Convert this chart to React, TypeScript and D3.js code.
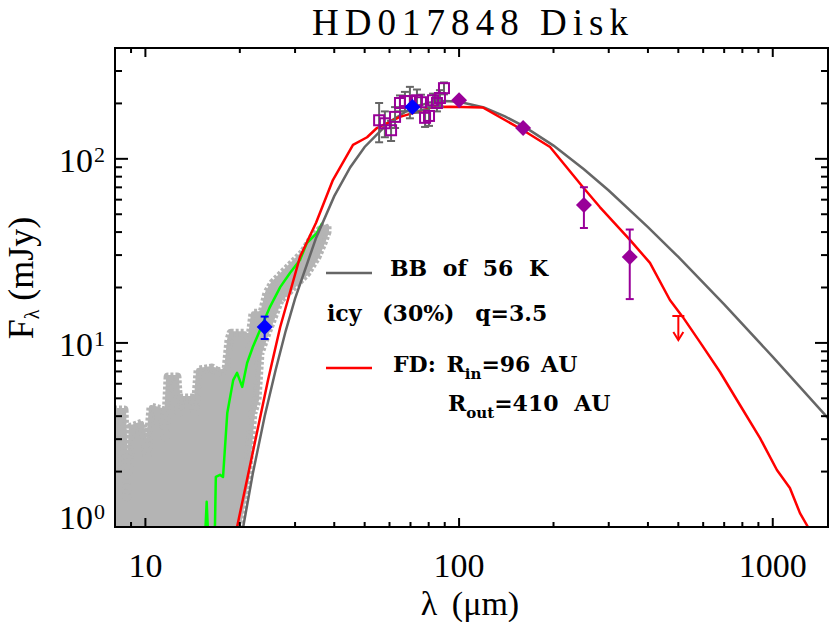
import React from "react";
import * as d3 from "d3";

const X_DOMAIN: [number, number] = [8, 1500];
const Y_DOMAIN: [number, number] = [1, 400];
const X_LABELED = [10, 100, 1000];
const X_LABELS = ["10", "100", "1000"];
const Y_LABELED = [1, 10, 100];
const Y_EXP = ["0", "1", "2"];

// Blackbody of 56 K (grey curve)
const bbWave = [20, 20.5, 22, 24, 26, 28, 30, 35, 40, 45, 50, 60, 70, 80, 90, 100, 120, 140, 160, 200, 250, 300, 400, 500, 700, 1000, 1500];
const bbFlux = [0.8, 1.0, 1.95, 4.0, 7.1, 11.6, 17.4, 37.2, 62.7, 90, 116, 159, 187, 202, 206, 204, 190, 170, 151, 118, 87.7, 67.3, 42.6, 29.3, 16.2, 8.4, 3.9];

// FD model (red curve)
const fdWave = [19.0, 19.6, 24.6, 26.9, 31.1, 35.0, 39.6, 45.9, 50.9, 54.7, 64.8, 82.6, 93.5, 119, 160, 195, 248, 281, 351, 406, 470, 517, 586, 679, 786, 911, 1031, 1134, 1221, 1295, 1330];
const fdFlux = [0.8, 1.0, 6.29, 12.2, 29.3, 45, 76.7, 119, 131, 147, 169, 191, 192, 190, 143, 116, 70.3, 54.7, 36.2, 27.2, 17.1, 13.8, 10.1, 6.95, 4.6, 3.04, 2.04, 1.63, 1.19, 1.0, 0.85];

// model spectrum (green curve)
const greenWave = [15.4, 15.68, 15.95, 16.6, 16.77, 17.29, 17.68, 18.24, 19.05, 19.6, 20.35, 21.1, 22.0, 23.7, 24.96, 26.9, 28.9, 31.1, 32.7, 35.2, 36.6];
const greenFlux = [0.7, 1.37, 0.7, 0.7, 1.87, 1.92, 1.87, 4.16, 6.28, 6.87, 5.77, 7.78, 9.5, 12.8, 15.7, 20.1, 24.0, 28.2, 34.9, 39.5, 44.8];

// IRS spectrum envelope (light grey band)
const irsUpWave = [7.94, 8.55, 8.74, 9.0, 9.75, 10.12, 10.42, 11.29, 11.55, 11.81, 12.61, 12.8, 12.99, 14.08, 14.39, 14.72, 16.31, 17.03, 18.07, 18.47, 18.75, 20.77, 21.39, 22.03, 23.53, 24.41, 25.51, 27.46, 29.54, 31.79, 34.22, 36.03, 37.93];
const irsUpFlux = [4.32, 4.32, 1.46, 3.49, 3.67, 2.46, 4.49, 4.32, 3.08, 6.53, 6.53, 4.21, 5.02, 5.02, 4.21, 7.12, 7.31, 6.95, 7.12, 10.4, 11.3, 11.3, 9.74, 14.5, 14.5, 18.7, 21.2, 24.0, 27.2, 30.8, 37.6, 41.0, 43.2];
const irsLoWave = [7.9, 19.59, 21.08, 22.03, 22.69, 23.19, 24.41, 26.86, 29.54, 32.74, 35.24, 36.83, 37.93];
const irsLoFlux = [0.8, 0.9, 1.8, 4.16, 4.9, 8.81, 11.3, 17.1, 20.1, 24.0, 29.3, 34.9, 40.0];

// PACS spectroscopy (open purple squares, grey errors)
const sqWave = [55.6, 58.0, 60.7, 62.5, 64.8, 67.2, 69.7, 73.4, 75.6, 77.9, 80.2, 82.6, 85.0, 86.9, 89.5];
const sqFlux = [162, 156, 143, 169, 201, 206, 206, 208, 203, 167, 171, 208, 201, 214, 242];
const sqErr = [39, 25, 18, 22, 20, 25, 40, 30, 20, 18, 20, 18, 20, 22, 18];

// photometry
const blueWave = [24, 71];
const blueFlux = [12.2, 191];
const blueErr = [1.7, 6];
const purpleWave = [100, 160, 250, 350];
const purpleFlux = [208, 147, 56.1, 29.3];
const purpleErr = [5, 4, 14, 12];
const limitWave = [500];
const limitFlux = [14.0];

const PURPLE = "#990099";
const GREY = "#666666";
const IRS = "#b4b4b4";

type P = [number, number];

export default function App() {
  const L = 115, R = 828, T = 48, B = 527;
  const x = d3.scaleLog().domain(X_DOMAIN).range([L, R]);
  const y = d3.scaleLog().domain(Y_DOMAIN).range([B, T]);
  const pts = (w: number[], f: number[]): P[] => w.map((v, i) => [v, f[i]] as P);
  const line = d3.line<P>().x((d) => x(d[0])).y((d) => y(d[1]));

  const xMinor: number[] = [];
  [1, 10, 100, 1000].forEach((d) => {
    for (let k = 1; k <= 9; k++) {
      const v = k * d;
      if (v >= X_DOMAIN[0] && v <= X_DOMAIN[1]) xMinor.push(v);
    }
  });
  const yMinor: number[] = [];
  [1, 10, 100].forEach((d) => {
    for (let k = 1; k <= 9; k++) {
      const v = k * d;
      if (v >= Y_DOMAIN[0] && v <= Y_DOMAIN[1]) yMinor.push(v);
    }
  });

  const irsPoly: P[] = [...pts(irsUpWave, irsUpFlux), ...pts(irsLoWave, irsLoFlux).reverse()];
  const irsPath = (line(irsPoly) || "") + "Z";

  const diamond = (cx: number, cy: number, r: number) =>
    `M${cx},${cy - r}L${cx + r},${cy}L${cx},${cy + r}L${cx - r},${cy}Z`;

  const serif = "'Liberation Serif', 'DejaVu Serif', serif";
  const legendFont = "'DejaVu Serif', serif";

  return (
    <svg width={830} height={622} style={{ position: "absolute", left: 0, top: 0, background: "#fff" }}>
      <defs>
        <clipPath id="plotClip">
          <rect x={L} y={T} width={R - L} height={B - T} />
        </clipPath>
      </defs>
      <rect x={0} y={0} width={830} height={622} fill="#fff" />

      <g clipPath="url(#plotClip)">
        {/* IRS band */}
        <path d={irsPath} fill={IRS} stroke={IRS} strokeWidth={4} strokeLinejoin="round" />
        <path d={irsPath} fill="none" stroke={IRS} strokeWidth={9} strokeDasharray="3 2" strokeLinejoin="round" />
        {/* green model spectrum */}
        <path d={line(pts(greenWave, greenFlux)) || ""} fill="none" stroke="#00ff00" strokeWidth={2.5} strokeLinejoin="round" />
        {/* BB */}
        <path d={line(pts(bbWave, bbFlux)) || ""} fill="none" stroke={GREY} strokeWidth={2.5} />
        {/* FD */}
        <path d={line(pts(fdWave, fdFlux)) || ""} fill="none" stroke="#ff0000" strokeWidth={2.5} strokeLinejoin="round" />

        {/* grey error bars of squares */}
        {sqWave.map((w, i) => {
          const cx = x(w);
          const y1 = y(sqFlux[i] + sqErr[i]);
          const y2 = y(sqFlux[i] - sqErr[i]);
          return (
            <g key={"se" + i} stroke={GREY} strokeWidth={2}>
              <line x1={cx} x2={cx} y1={y1} y2={y2} />
              <line x1={cx - 4} x2={cx + 4} y1={y1} y2={y1} />
              <line x1={cx - 4} x2={cx + 4} y1={y2} y2={y2} />
            </g>
          );
        })}
        {sqWave.map((w, i) => (
          <rect key={"sq" + i} x={x(w) - 5} y={y(sqFlux[i]) - 5} width={10} height={10} fill="none" stroke={PURPLE} strokeWidth={2} />
        ))}

        {/* purple photometry */}
        {purpleWave.map((w, i) => {
          const cx = x(w);
          const y1 = y(purpleFlux[i] + purpleErr[i]);
          const y2 = y(purpleFlux[i] - purpleErr[i]);
          return (
            <g key={"pp" + i}>
              <g stroke={PURPLE} strokeWidth={2}>
                <line x1={cx} x2={cx} y1={y1} y2={y2} />
                <line x1={cx - 4} x2={cx + 4} y1={y1} y2={y1} />
                <line x1={cx - 4} x2={cx + 4} y1={y2} y2={y2} />
              </g>
              <path d={diamond(cx, y(purpleFlux[i]), 8)} fill={PURPLE} />
            </g>
          );
        })}

        {/* blue photometry */}
        {blueWave.map((w, i) => {
          const cx = x(w);
          const y1 = y(blueFlux[i] + blueErr[i]);
          const y2 = y(blueFlux[i] - blueErr[i]);
          return (
            <g key={"bp" + i}>
              <g stroke="#0000ff" strokeWidth={2}>
                <line x1={cx} x2={cx} y1={y1} y2={y2} />
                <line x1={cx - 4} x2={cx + 4} y1={y1} y2={y1} />
                <line x1={cx - 4} x2={cx + 4} y1={y2} y2={y2} />
              </g>
              <path d={diamond(cx, y(blueFlux[i]), 8)} fill="#0000ff" />
            </g>
          );
        })}

        {/* upper limit */}
        {limitWave.map((w, i) => {
          const cx = x(w);
          const cy = y(limitFlux[i]);
          return (
            <g key={"ul" + i} stroke="#ff0000" strokeWidth={2} fill="none">
              <line x1={cx - 6} x2={cx + 6} y1={cy} y2={cy} />
              <line x1={cx} x2={cx} y1={cy} y2={cy + 24} />
              <polyline points={`${cx - 5},${cy + 16} ${cx},${cy + 24} ${cx + 5},${cy + 16}`} />
            </g>
          );
        })}
      </g>

      {/* frame */}
      <rect x={L} y={T} width={R - L} height={B - T} fill="none" stroke="#000" strokeWidth={2} />

      {/* x ticks */}
      {xMinor.map((v) => {
        const major = X_LABELED.includes(v);
        const len = major ? 9 : 5;
        const px = x(v);
        return (
          <g key={"xt" + v} stroke="#000" strokeWidth={2}>
            <line x1={px} x2={px} y1={B} y2={B - len} />
            <line x1={px} x2={px} y1={T} y2={T + len} />
          </g>
        );
      })}
      {/* y ticks */}
      {yMinor.map((v) => {
        const major = Y_LABELED.includes(v);
        const len = major ? 13 : 7;
        const py = y(v);
        return (
          <g key={"yt" + v} stroke="#000" strokeWidth={2}>
            <line x1={L} x2={L + len} y1={py} y2={py} />
            <line x1={R} x2={R - len} y1={py} y2={py} />
          </g>
        );
      })}

      {/* x tick labels */}
      {X_LABELED.map((v, i) => (
        <text key={"xl" + v} x={x(v)} y={577} textAnchor="middle" fontFamily={serif} fontSize={34} fill="#000">
          {X_LABELS[i]}
        </text>
      ))}
      {/* y tick labels */}
      {Y_LABELED.map((v, i) => {
        const base = i === 0 ? 529 : y(v) + 13;
        return (
          <g key={"yl" + v} fontFamily={serif} fill="#000">
            <text x={93} y={base} textAnchor="end" fontSize={34}>10</text>
            <text x={94} y={base - 10} fontSize={22}>{Y_EXP[i]}</text>
          </g>
        );
      })}

      {/* title */}
      <text x={470} y={35} textAnchor="middle" fontFamily={serif} fontSize={37} textLength={316} lengthAdjust="spacing" fill="#000">
        HD017848 Disk
      </text>

      {/* axis titles */}
      <text x={470} y={615} textAnchor="middle" fontFamily={serif} fontSize={34} fill="#000" style={{ wordSpacing: "6px" }}>
        λ (μm)
      </text>
      <g transform="translate(33,278) rotate(-90)">
        <text x={0} y={0} textAnchor="middle" fontFamily={serif} fontSize={36} fill="#000">
          F<tspan fontSize={20} dy={6}>λ</tspan><tspan dy={-6}> (mJy)</tspan>
        </text>
      </g>

      {/* legend */}
      <line x1={326} x2={372} y1={273} y2={273} stroke={GREY} strokeWidth={2.5} />
      <text x={390} y={276} fontFamily={legendFont} fontWeight="bold" fontSize={22} fill="#000" style={{ wordSpacing: "8px" }}>
        BB of 56 K
      </text>
      <text x={327} y={321} fontFamily={legendFont} fontWeight="bold" fontSize={22} fill="#000" style={{ wordSpacing: "13px" }}>
        icy (30%) q=3.5
      </text>
      <line x1={326} x2={372} y1={368} y2={368} stroke="#ff0000" strokeWidth={2.5} />
      <text x={393} y={372} fontFamily={legendFont} fontWeight="bold" fontSize={22} fill="#000" style={{ wordSpacing: "3px" }}>
        FD: R<tspan fontSize={15} dy={7}>in</tspan><tspan dy={-7}>=96 AU</tspan>
      </text>
      <text x={448} y={411} fontFamily={legendFont} fontWeight="bold" fontSize={22} fill="#000" style={{ wordSpacing: "8px" }}>
        R<tspan fontSize={15} dy={7}>out</tspan><tspan dy={-7}>=410 AU</tspan>
      </text>
    </svg>
  );
}
